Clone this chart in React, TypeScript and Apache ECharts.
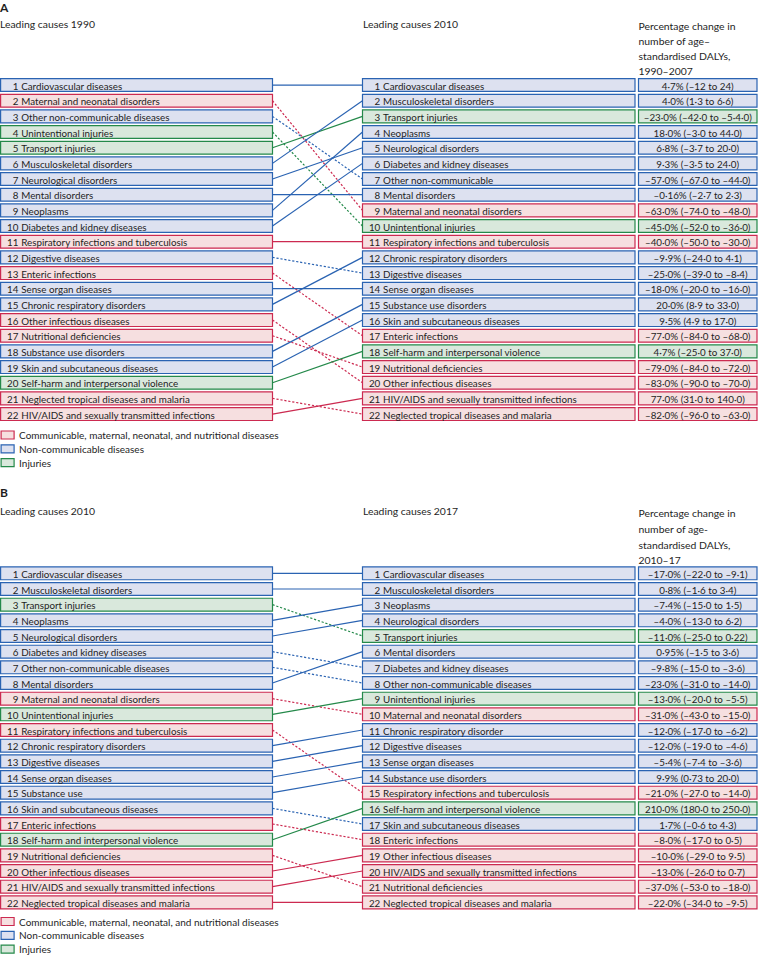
import React, { useEffect, useRef } from "react";
import * as echarts from "echarts";

// ---------- DATA ----------
const causes1990 = [
  "Cardiovascular diseases", "Maternal and neonatal disorders", "Other non-communicable diseases",
  "Unintentional injuries", "Transport injuries", "Musculoskeletal disorders", "Neurological disorders",
  "Mental disorders", "Neoplasms", "Diabetes and kidney diseases", "Respiratory infections and tuberculosis",
  "Digestive diseases", "Enteric infections", "Sense organ diseases", "Chronic respiratory disorders",
  "Other infectious diseases", "Nutritional deficiencies", "Substance use disorders",
  "Skin and subcutaneous diseases", "Self-harm and interpersonal violence",
  "Neglected tropical diseases and malaria", "HIV/AIDS and sexually transmitted infections",
];
const groups1990 = ["N", "C", "N", "I", "I", "N", "N", "N", "N", "N", "C", "N", "C", "N", "N", "C", "C", "N", "N", "I", "C", "C"];
const rank1990to2010 = [1, 9, 7, 10, 3, 2, 5, 8, 4, 6, 11, 13, 17, 14, 12, 20, 19, 15, 16, 18, 22, 21];

const causes2010A = [
  "Cardiovascular diseases", "Musculoskeletal disorders", "Transport injuries", "Neoplasms",
  "Neurological disorders", "Diabetes and kidney diseases", "Other non-communicable", "Mental disorders",
  "Maternal and neonatal disorders", "Unintentional injuries", "Respiratory infections and tuberculosis",
  "Chronic respiratory disorders", "Digestive diseases", "Sense organ diseases", "Substance use disorders",
  "Skin and subcutaneous diseases", "Enteric infections", "Self-harm and interpersonal violence",
  "Nutritional deficiencies", "Other infectious diseases", "HIV/AIDS and sexually transmitted infections",
  "Neglected tropical diseases and malaria",
];
const groups2010 = ["N", "N", "I", "N", "N", "N", "N", "N", "C", "I", "C", "N", "N", "N", "N", "N", "C", "I", "C", "C", "C", "C"];
const pct1990to2010 = [
  "4·7% (–12 to 24)", "4·0% (1·3 to 6·6)", "–23·0% (–42·0 to –5·4·0)", "18·0% (–3·0 to 44·0)",
  "6·8% (–3·7 to 20·0)", "9·3% (–3·5 to 24·0)", "–57·0% (–67·0 to –44·0)", "–0·16% (–2·7 to 2·3)",
  "–63·0% (–74·0 to –48·0)", "–45·0% (–52·0 to –36·0)", "–40·0% (–50·0 to –30·0)", "–9·9% (–24·0 to 4·1)",
  "–25·0% (–39·0 to –8·4)", "–18·0% (–20·0 to –16·0)", "20·0% (8·9 to 33·0)", "9·5% (4·9 to 17·0)",
  "–77·0% (–84·0 to –68·0)", "4·7% (–25·0 to 37·0)", "–79·0% (–84·0 to –72·0)", "–83·0% (–90·0 to –70·0)",
  "77·0% (31·0 to 140·0)", "–82·0% (–96·0 to –63·0)",
];

const causes2010B = [
  "Cardiovascular diseases", "Musculoskeletal disorders", "Transport injuries", "Neoplasms",
  "Neurological disorders", "Diabetes and kidney diseases", "Other non-communicable diseases", "Mental disorders",
  "Maternal and neonatal disorders", "Unintentional injuries", "Respiratory infections and tuberculosis",
  "Chronic respiratory disorders", "Digestive diseases", "Sense organ diseases", "Substance use",
  "Skin and subcutaneous diseases", "Enteric infections", "Self-harm and interpersonal violence",
  "Nutritional deficiencies", "Other infectious diseases", "HIV/AIDS and sexually transmitted infections",
  "Neglected tropical diseases and malaria",
];
const rank2010to2017 = [1, 2, 5, 3, 4, 7, 8, 6, 10, 9, 15, 11, 12, 13, 14, 17, 18, 16, 21, 19, 20, 22];

const causes2017 = [
  "Cardiovascular diseases", "Musculoskeletal disorders", "Neoplasms", "Neurological disorders",
  "Transport injuries", "Mental disorders", "Diabetes and kidney diseases", "Other non-communicable diseases",
  "Unintentional injuries", "Maternal and neonatal disorders", "Chronic respiratory disorder",
  "Digestive diseases", "Sense organ diseases", "Substance use disorders",
  "Respiratory infections and tuberculosis", "Self-harm and interpersonal violence",
  "Skin and subcutaneous diseases", "Enteric infections", "Other infectious diseases",
  "HIV/AIDS and sexually transmitted infections", "Nutritional deficiencies",
  "Neglected tropical diseases and malaria",
];
const groups2017 = ["N", "N", "N", "N", "I", "N", "N", "N", "I", "C", "N", "N", "N", "N", "C", "I", "N", "C", "C", "C", "C", "C"];
const pct2010to2017 = [
  "–17·0% (–22·0 to –9·1)", "0·8% (–1·6 to 3·4)", "–7·4% (–15·0 to 1·5)", "–4·0% (–13·0 to 6·2)",
  "–11·0% (–25·0 to 0·22)", "0·95% (–1·5 to 3·6)", "–9·8% (–15·0 to –3·6)", "–23·0% (–31·0 to –14·0)",
  "–13·0% (–20·0 to –5·5)", "–31·0% (–43·0 to –15·0)", "–12·0% (–17·0 to –6·2)", "–12·0% (–19·0 to –4·6)",
  "–5·4% (–7·4 to –3·6)", "9·9% (0·73 to 20·0)", "–21·0% (–27·0 to –14·0)", "210·0% (180·0 to 250·0)",
  "1·7% (–0·6 to 4·3)", "–8·0% (–17·0 to 0·5)", "–10·0% (–29·0 to 9·5)", "–13·0% (–26·0 to 0·7)",
  "–37·0% (–53·0 to –18·0)", "–22·0% (–34·0 to –9·5)",
];

const groupNames: Record<string, string> = {
  C: "Communicable, maternal, neonatal, and nutritional diseases",
  N: "Non-communicable diseases",
  I: "Injuries",
};
const panelLabels = ["A", "B"];
const leftHeaders = ["Leading causes 1990", "Leading causes 2010"];
const rightHeaders = ["Leading causes 2010", "Leading causes 2017"];
const pctHeaders = [
  "Percentage change in\nnumber of age–\nstandardised DALYs,\n1990–2007",
  "Percentage change in\nnumber of age-\nstandardised DALYs,\n2010–17",
];

// ---------- STYLE ----------
const FILL: Record<string, string> = { C: "#f6dfe0", N: "#dde1f0", I: "#d9e8dc" };
const STROKE: Record<string, string> = { C: "#cc2a50", N: "#2a63b2", I: "#24894a" };
const FONT = "Lato, 'Open Sans', sans-serif";
const ROW_FONT = "9.8px Lato, sans-serif";
const TEXT = "#1e1e1e";
const COLS = [
  [0.6, 272.5],
  [362.5, 635],
  [638.5, 757],
];
const GRID_TOP = [77.2, 565.5];
const GRID_H = 344.7;
const BOX_RATIO = 0.82;

type Box = { col: number; rank: number; name: string; group: string };

function buildBoxes(leftNames: string[], leftGroups: string[], rightNames: string[], rightGroups: string[], pcts: string[]): Box[] {
  const out: Box[] = [];
  leftNames.forEach((n, i) => out.push({ col: 0, rank: i + 1, name: n, group: leftGroups[i] }));
  rightNames.forEach((n, i) => out.push({ col: 1, rank: i + 1, name: n, group: rightGroups[i] }));
  pcts.forEach((n, i) => out.push({ col: 2, rank: i + 1, name: n, group: rightGroups[i] }));
  return out;
}

const panels = [
  {
    boxes: buildBoxes(causes1990, groups1990, causes2010A, groups2010, pct1990to2010),
    from: groups1990,
    to: rank1990to2010,
  },
  {
    boxes: buildBoxes(causes2010B, groups2010, causes2017, groups2017, pct2010to2017),
    from: groups2010,
    to: rank2010to2017,
  },
];

function txt(x: number, y: number, text: string, align: string) {
  return {
    type: "text",
    style: { x, y, text, textAlign: align, textVerticalAlign: "middle", fill: TEXT, font: ROW_FONT },
  };
}

function boxSeries(pi: number, group: string) {
  const items = panels[pi].boxes.filter((b) => b.group === group);
  return {
    type: "custom",
    name: groupNames[group],
    xAxisIndex: pi,
    yAxisIndex: pi,
    silent: true,
    itemStyle: { color: FILL[group], borderColor: STROKE[group] },
    data: items.map((b) => [COLS[b.col][0], b.rank]),
    encode: { x: 0, y: 1 },
    renderItem: (params: any, api: any) => {
      const b = items[params.dataIndex];
      const p0 = api.coord([COLS[b.col][0], b.rank]);
      const p1 = api.coord([COLS[b.col][1], b.rank]);
      const h = api.size([0, 1])[1] * BOX_RATIO;
      const children: any[] = [
        {
          type: "rect",
          shape: { x: p0[0], y: p0[1] - h / 2, width: p1[0] - p0[0], height: h },
          style: { fill: FILL[group], stroke: STROKE[group], lineWidth: 1.2 },
        },
      ];
      const ty = p0[1] + 0.5;
      if (b.col === 2) {
        children.push(txt((p0[0] + p1[0]) / 2, ty, b.name, "center"));
      } else {
        children.push(txt(p0[0] + 17.8, ty, String(b.rank), "right"));
        children.push(txt(p0[0] + 20.6, ty, b.name, "left"));
      }
      return { type: "group", children };
    },
  };
}

function lineSeries(pi: number) {
  const p = panels[pi];
  return {
    type: "custom",
    name: "links" + pi,
    xAxisIndex: pi,
    yAxisIndex: pi,
    silent: true,
    data: p.to.map((t, i) => [i + 1, t]),
    encode: { y: [0, 1] },
    renderItem: (params: any, api: any) => {
      const from = params.dataIndex + 1;
      const to = p.to[params.dataIndex];
      const g = p.from[params.dataIndex];
      const a = api.coord([COLS[0][1], from]);
      const b = api.coord([COLS[1][0], to]);
      return {
        type: "line",
        shape: { x1: a[0], y1: a[1], x2: b[0], y2: b[1] },
        style: { stroke: STROKE[g], lineWidth: 1.2, lineDash: to > from ? [2.2, 1.8] : null },
      };
    },
  };
}

export default function App() {
  const ref = useRef<HTMLDivElement>(null);
  useEffect(() => {
    document.body.style.margin = "0";
    const chart = echarts.init(ref.current!, null, { renderer: "svg" });
    const headerY = [26, 513];
    const labelTop = [1, 486];
    const pctLH = [14.9, 15.8];
    const graphics: any[] = [];
    [0, 1].forEach((pi) => {
      const y = headerY[pi];
      graphics.push({
        type: "text", left: 0, top: labelTop[pi],
        style: { text: panelLabels[pi], font: "bold 12px Lato, sans-serif", fill: TEXT },
      });
      graphics.push({
        type: "text", left: 0, top: y - 7,
        style: { text: leftHeaders[pi], font: "10.4px Lato, sans-serif", fill: TEXT },
      });
      graphics.push({
        type: "text", left: 363, top: y - 7,
        style: { text: rightHeaders[pi], font: "10.4px Lato, sans-serif", fill: TEXT },
      });
      graphics.push({
        type: "text", left: 638.5, top: y - pctLH[pi] / 2,
        style: { text: pctHeaders[pi], font: "10.4px Lato, sans-serif", fill: TEXT, lineHeight: pctLH[pi] },
      });
    });
    const legendData = ["C", "N", "I"].map((g) => ({
      name: groupNames[g],
      itemStyle: { color: FILL[g], borderColor: STROKE[g], borderWidth: 1.2 },
    }));
    const legendTops = [429, 915.5];
    const option: any = {
      animation: false,
      graphic: graphics,
      legend: legendTops.map((t) => ({
        orient: "vertical", left: 0.5, top: t, itemWidth: 13, itemHeight: 8, itemGap: 1.8,
        icon: "rect", selectedMode: false, padding: 0,
        textStyle: { fontSize: 10, fontFamily: FONT, color: TEXT, lineHeight: 12 },
        data: legendData,
      })),
      grid: GRID_TOP.map((t) => ({ left: 0, width: 758, top: t, height: GRID_H })),
      xAxis: [0, 1].map((i) => ({ type: "value", gridIndex: i, min: 0, max: 758, show: false })),
      yAxis: [0, 1].map((i) => ({ type: "value", gridIndex: i, min: 0.5, max: 22.5, inverse: true, show: false })),
      series: [
        lineSeries(0), lineSeries(1),
        ...["C", "N", "I"].flatMap((g) => [boxSeries(0, g), boxSeries(1, g)]),
      ],
    };
    chart.setOption(option);
    return () => chart.dispose();
  }, []);
  return <div ref={ref} style={{ width: 758, height: 956 }} />;
}
